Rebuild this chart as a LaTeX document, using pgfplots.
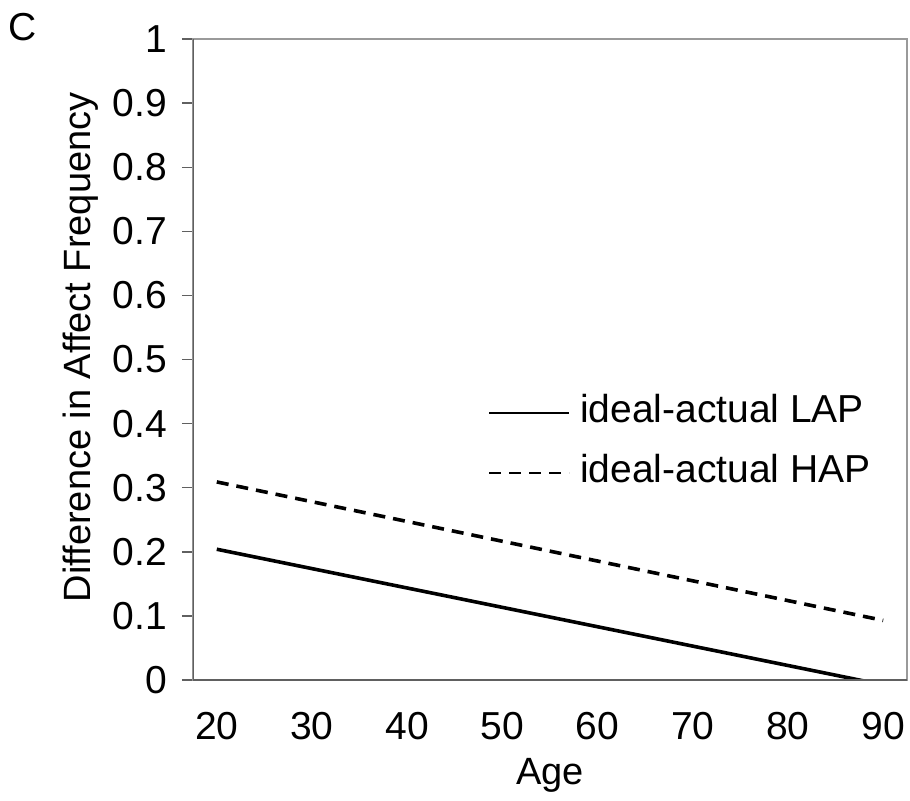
\documentclass[border=0pt]{standalone}
\usepackage{pgfplots}
\pgfplotsset{compat=1.18}
\usepackage{fontspec}
\setmainfont{Liberation Sans}
\definecolor{frameg}{HTML}{9A9A9A}
\definecolor{axisg}{HTML}{606060}
\begin{document}
\begin{tikzpicture}
\useasboundingbox (-96.5pt,-60pt) rectangle (358.5pt,340pt);
\node[font=\fontsize{19.5}{22}\selectfont, anchor=center] at (-85pt,326.5pt) {C};
\begin{axis}[
  at={(0pt,0pt)}, anchor=south west,
  scale only axis, width=357pt, height=320.5pt,
  xmin=17.5, xmax=92.5, ymin=0, ymax=1,
  xtick={20,30,40,50,60,70,80,90},
  ytick={0,0.1,0.2,0.3,0.4,0.5,0.6,0.7,0.8,0.9,1},
  /pgf/number format/assume math mode=true,
  yticklabel style={/pgf/number format/fixed, /pgf/number format/precision=1},
  tick label style={font=\fontsize{19.5}{22}\selectfont},
  xticklabel style={yshift=-7pt},
  yticklabel style={xshift=-4pt},
  label style={font=\fontsize{19}{22}\selectfont},
  xlabel={Age},
  ylabel={Difference in Affect Frequency},
  xlabel style={at={(axis description cs:0.5,-0.148)}, anchor=center},
  ylabel style={at={(axis description cs:-0.157,0.519)}, anchor=center},
  axis line style={draw=frameg, line width=1.4pt},
  xtick style={draw=none},
  ytick pos=left, tick align=outside,
  major tick length=5.5pt,
  ytick style={draw=axisg, line width=0.7pt},
  legend style={at={(axis description cs:0.413,0.3697)}, anchor=west,
    draw=none, fill=none, inner sep=0pt,
    font=\fontsize{19.5}{22}\selectfont,
    row sep=13pt, column sep=0pt,
    nodes={inner sep=0pt, text height=13pt, text depth=4pt}},
  legend cell align=left,
  legend image code/.code={\draw[#1, line width=0.9pt] (0pt,0pt) -- (40pt,0pt);},
]
\addplot[black, line width=1.8pt] coordinates {(20,0.204) (90,-0.0076)};
\addlegendentry{\hspace{5pt}ideal-actual LAP}
\addplot[black, line width=1.8pt, dash pattern=on 6pt off 4pt] coordinates {(20,0.309) (90,0.093)};
\addlegendentry{\hspace{5pt}ideal-actual HAP}
\draw[axisg, line width=1.2pt] (rel axis cs:0,1) -- (rel axis cs:0,0) -- (rel axis cs:1,0);
\end{axis}
\end{tikzpicture}
\end{document}
